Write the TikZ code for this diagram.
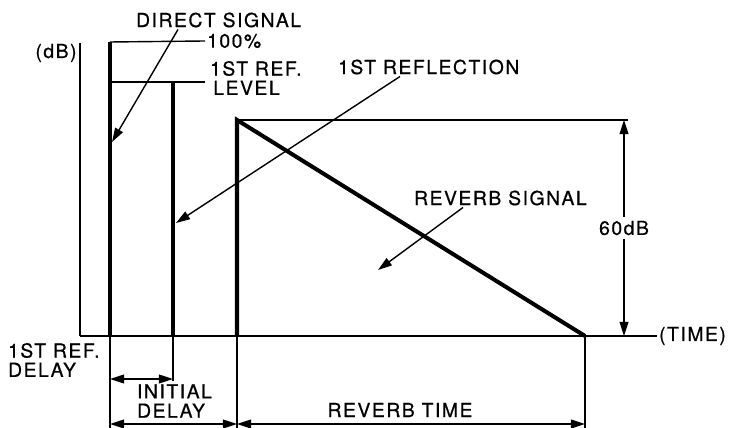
\documentclass[tikz,border=0pt]{standalone}
\usepackage{fontspec}
\newfontfamily\lblfont[LetterSpace=8,FakeBold=0.6]{TeX Gyre Heros}
\usepackage{tikz}
\usetikzlibrary{arrows.meta,calc,positioning}

\begin{document}
\begin{tikzpicture}[x=0.02cm,y=-0.02cm,
  lbl/.style={font=\lblfont\fontsize{11}{12}\selectfont,inner sep=1pt},
  bar/.style={line width=2.3pt},
  thinline/.style={line width=0.8pt},
  pointer/.style={thinline,-{Triangle[length=8pt,width=5pt]}},
  dimarrow/.style={thinline,{Triangle[length=8pt,width=5pt]}-{Triangle[length=8pt,width=5pt]}}]
  \useasboundingbox (0,0) rectangle (729,428);
  % ---- axes
  \coordinate (top) at (80,43);
  \coordinate (origin) at (80,336);
  \node[lbl,anchor=west] (timelbl) at (657,336) {(TIME)};
  \node[lbl] (dblbl) at (56,53) {(dB)};
  \draw[thinline] (top) -- (origin);
  \draw[line width=1.1pt] (origin) -- (timelbl.west);
  % ---- direct signal and 1st reflection
  \coordinate (dtop) at (110,42);
  \coordinate (dbot) at (110,336);
  \coordinate (rtop) at (173,82);
  \coordinate (rbot) at (173,336);
  \node[lbl,anchor=west] (fullpct) at (205,41) {100\%};
  \node[lbl,anchor=west,align=left] (reflevel) at (208,78) {1ST REF.\\[-1pt]\,LEVEL};
  \draw[thinline] (dtop) -- (fullpct.west);
  \draw[thinline] (dtop |- rtop) -- (rtop -| fullpct.west);
  \draw[bar] (dtop) -- (dbot);
  \draw[bar] (rtop) -- (rbot);
  % ---- reverb signal
  \coordinate (vtop) at (237,120);
  \coordinate (vbot) at (237,336);
  \coordinate (vend) at (585,336);
  \coordinate (levtop) at (624,120);
  \coordinate (levbot) at (624,336);
  \draw[thinline] (vtop) -- (628,120);
  \draw[bar] (vbot) -- (vtop) -- (vend);
  \draw[dimarrow] (levtop) -- (levbot)
    node[lbl,midway,fill=white,inner sep=2pt] (leveldb) {60dB};
  % ---- labels with pointers
  \node[lbl,anchor=west] (dirlbl) at (134,20) {DIRECT SIGNAL};
  \node[lbl,anchor=west] (reflbl) at (336,67) {1ST REFLECTION};
  \node[lbl,anchor=west] (revlbl) at (412,198) {REVERB SIGNAL};
  \coordinate (dirhit) at (112,142);
  \coordinate (refhit) at (176,223);
  \coordinate (revhit) at (378,270);
  \draw[pointer] ([xshift=0.88cm]dirlbl.south west) -- (dirhit);
  \draw[pointer] ([xshift=1.28cm]reflbl.south west) -- (refhit);
  \draw[pointer] ([xshift=1.02cm]revlbl.south west) -- (revhit);
  % ---- time intervals
  \foreach \p/\e in {dbot/428,rbot/381,vbot/428,vend/428}
    \draw[thinline] (\p) -- (\p |- 0,\e);
  \node[lbl,anchor=west,align=left] (refdelay) at (6,360) {1ST REF.\\[-1pt]DELAY};
  \node[lbl,anchor=west,align=left] (initdelay) at (135,401) {INITIAL\\[-1pt]DELAY};
  \node[lbl] (revtime) at (400,410) {REVERB TIME};
  \draw[dimarrow] (dbot |- 0,379) -- (rbot |- 0,379);
  \draw[dimarrow] (dbot |- 0,424) -- (vbot |- 0,424);
  \draw[dimarrow] (vbot |- 0,424) -- (vend |- 0,424);
\end{tikzpicture}
\end{document}
